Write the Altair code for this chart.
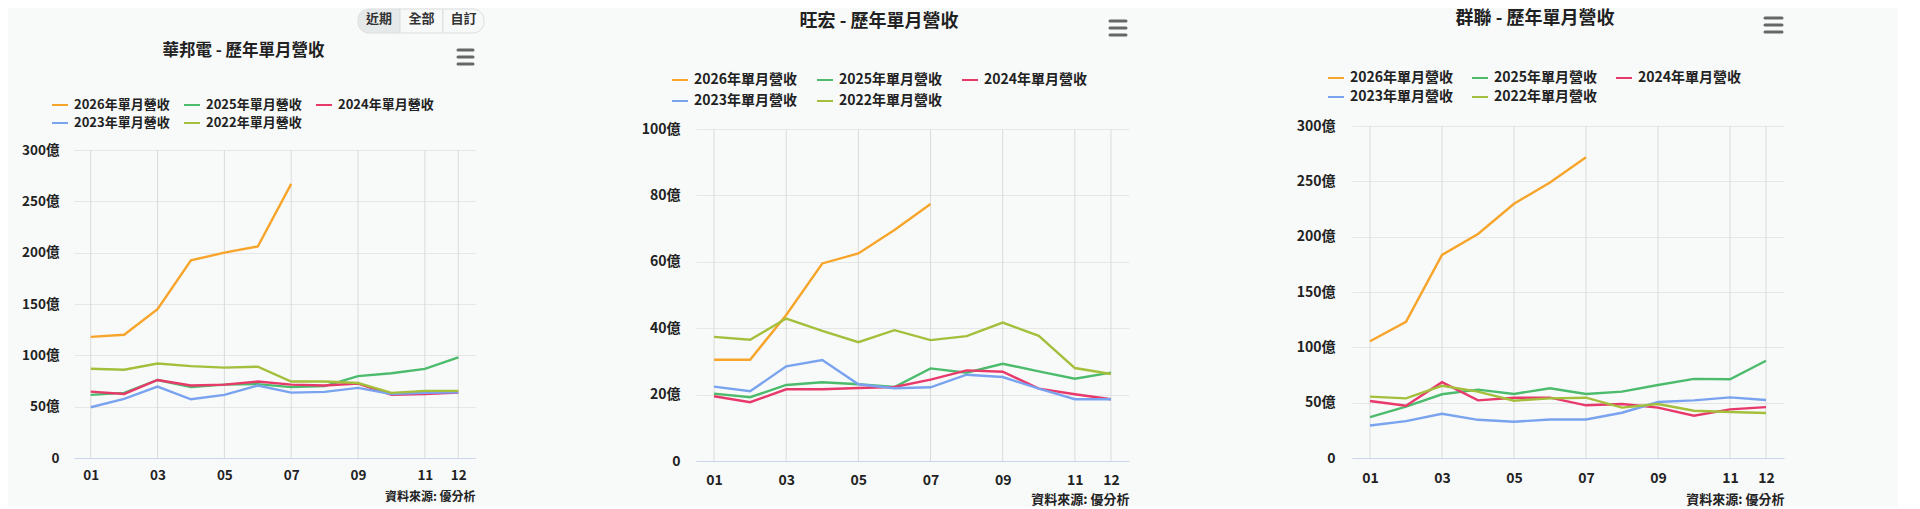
import altair as alt
import pandas as pd

months = list(range(1, 13))
series_names = ["2026年單月營收", "2025年單月營收", "2024年單月營收", "2023年單月營收", "2022年單月營收"]
series_colors = ["#f7a52a", "#4cbb6c", "#e8396b", "#7aa3ef", "#a3bf3c"]
x_tick_values = [1, 3, 5, 7, 9, 11, 12]
source_text = "資料來源: 優分析"
button_labels = ["近期", "全部", "自訂"]

# 華邦電 (億)
wb_2026 = [118, 120, 145, 192.5, 200, 206, 267]
wb_2025 = [61.5, 63.4, 76, 69, 71.5, 72, 69, 70, 79.7, 82.6, 86.8, 98]
wb_2024 = [64.7, 62.4, 76, 70.6, 71.5, 74.5, 71.5, 70.6, 72.5, 61.5, 62.4, 63.7]
wb_2023 = [49.4, 57.6, 69.6, 57.2, 61.5, 70.6, 63.7, 64.4, 68.3, 62.4, 63.4, 64]
wb_2022 = [87, 86, 92, 89.5, 88, 89, 74.5, 74.5, 73, 63.4, 65.4, 65.4]

# 旺宏 (億)
mx_2026 = [30.5, 30.5, 44, 59.5, 62.5, 69.6, 77.4]
mx_2025 = [20.3, 19.2, 22.9, 23.7, 23.1, 22.3, 27.9, 26.6, 29.3, 27, 24.8, 26.6]
mx_2024 = [19.5, 17.7, 21.6, 21.6, 22, 22.3, 24.5, 27.3, 26.9, 21.8, 20.1, 18.6]
mx_2023 = [22.4, 21, 28.5, 30.4, 23.1, 21.9, 22.2, 26, 25.3, 21.8, 18.6, 18.6]
mx_2022 = [37.4, 36.5, 42.9, 39.2, 35.8, 39.4, 36.4, 37.6, 41.7, 37.7, 28, 26.2]

# 群聯 (億)
ph_2026 = [105.5, 123, 183.5, 202.4, 229.7, 249, 271.8]
ph_2025 = [37, 46.4, 57.6, 61.8, 57.9, 63, 57.9, 60, 66, 71.5, 71.2, 87.9]
ph_2024 = [51.5, 47.3, 68.5, 52.1, 54.5, 54.5, 47.6, 48.8, 45.5, 38.2, 43.9, 46]
ph_2023 = [29.4, 33.3, 40, 34.5, 32.7, 34.8, 34.8, 40.9, 50.6, 52.1, 54.8, 52.4]
ph_2022 = [55.5, 53.9, 65.2, 60, 51.8, 53.9, 54.5, 45.5, 48.8, 42.7, 41.5, 40.6]

FONT = "Noto Sans CJK TC"


def long_df(lists):
    rows = []
    for name, vals in zip(series_names, lists):
        for m, v in zip(months, vals):
            rows.append({"month": m, "value": v, "series": name})
    return pd.DataFrame(rows)


def one_row():
    return pd.DataFrame({"k": [0]})


def hbar(x1, x2, y):
    return alt.Chart(one_row()).mark_rule(
        color="#666666", strokeWidth=3, strokeCap="round"
    ).encode(x=alt.value(x1), x2=alt.value(x2), y=alt.value(y))


def panel(title, lists, ymax, ystep, g):
    df = long_df(lists)
    yvals = list(range(0, ymax + 1, ystep))
    x_enc = alt.X(
        "month:Q",
        scale=alt.Scale(domain=[0.5, 12.5], nice=False, zero=False),
        axis=alt.Axis(
            values=x_tick_values,
            labelExpr="datum.value < 10 ? '0' + datum.value : '' + datum.value",
            grid=False, ticks=False, tickSize=0,
            domainColor="#ccd6eb", domainWidth=1,
            labelPadding=g["xlp"], labelFontSize=g["lfs"],
            title=source_text, titleAnchor="end", titleAlign="right",
            titlePadding=g["xtp"], titleFontSize=g["tfs"],
            titleFont=FONT, titleFontWeight="bold", titleColor="#222222",
        ),
    )
    y_enc = alt.Y(
        "value:Q",
        scale=alt.Scale(domain=[0, ymax], nice=False, range=[g["h"], g["ytop"]]),
        axis=alt.Axis(
            values=yvals,
            labelExpr="datum.value == 0 ? '0' : datum.value + '億'",
            domain=False, ticks=False, tickSize=0, gridColor="#e6e6e6",
            labelPadding=g["ylp"], labelFontSize=g["lfs"], title=None,
        ),
    )
    grid_df = pd.DataFrame({"month": x_tick_values,
                            "value": [0] * len(x_tick_values),
                            "value_top": [ymax] * len(x_tick_values)})
    vgrid = alt.Chart(grid_df).mark_rule(color="#dadada", strokeWidth=1).encode(
        x=x_enc, y=y_enc, y2="value_top:Q"
    )
    lines = alt.Chart(df).mark_line(strokeWidth=2.4).encode(
        x=x_enc,
        y=y_enc,
        color=alt.Color(
            "series:N",
            scale=alt.Scale(domain=series_names, range=series_colors),
            legend=alt.Legend(
                orient="none", legendX=g["lx"], legendY=g["ly"], columns=3,
                direction="horizontal",
                symbolType="stroke", symbolSize=256, symbolStrokeWidth=2,
                labelFontSize=g["lgfs"], labelOffset=5, columnPadding=g["cp"],
                rowPadding=g["rp"], title=None, labelFont=FONT,
                labelFontWeight="bold", labelColor="#222222", padding=0,
            ),
        ),
    )
    anchor = alt.Chart(one_row()).mark_rule(opacity=0).encode(
        x=alt.value(g["ax1"]), x2=alt.value(g["ax2"]), y=alt.value(g["ay"])
    )
    hx1, hx2 = g["hx"]
    layers = [anchor, vgrid, lines] + [hbar(hx1, hx2, yy) for yy in g["hy"]]
    if g.get("buttons"):
        bx = g["buttons"]
        fills = ["#e6e9ea", "#f7f8f8", "#f7f8f8"]
        for i in range(3):
            kw = {}
            if i == 0:
                kw = dict(cornerRadiusTopLeft=11, cornerRadiusBottomLeft=11)
            if i == 2:
                kw = dict(cornerRadiusTopRight=11, cornerRadiusBottomRight=11)
            layers.append(
                alt.Chart(one_row()).mark_rect(
                    fill=fills[i], stroke="#dddddd", strokeWidth=1, **kw
                ).encode(x=alt.value(bx[i]), x2=alt.value(bx[i + 1]),
                         y=alt.value(g["by1"]), y2=alt.value(g["by2"]))
            )
        for i, lab in enumerate(button_labels):
            layers.append(
                alt.Chart(one_row()).mark_text(
                    text=lab, font=FONT, fontWeight="bold", fontSize=13,
                    color="#333333", baseline="middle", align="center"
                ).encode(x=alt.value((bx[i] + bx[i + 1]) / 2), y=alt.value(g["bty"]))
            )
    return alt.layer(*layers).properties(
        width=g["w"], height=g["h"],
        title=alt.TitleParams(
            text=title, fontSize=g["titfs"], font=FONT, fontWeight="bold",
            color="#212121", anchor="middle", frame="group", dx=g["tdx"],
            offset=g["toff"],
        ),
    )


g1 = dict(w=401, h=332, ytop=24, ax1=-65, ax2=563, ay=-117, titfs=16.5, toff=-51, tdx=-31,
          hx=(384, 399), hy=[-76, -69, -62], lx=-23, ly=-30, rp=2, cp=10, lgfs=13,
          lfs=13.5, ylp=15, xlp=10, xtp=10, tfs=12,
          buttons=[284, 326, 369, 410], by1=-117, by2=-93, bty=-107)
g2 = dict(w=433, h=335, ytop=3, ax1=-57, ax2=595, ay=-117, titfs=18, toff=-22, tdx=-33.5,
          hx=(414, 430), hy=[-105, -98, -91], lx=-25, ly=-55, rp=5, cp=15, lgfs=14,
          lfs=14, ylp=16, xlp=12, xtp=6, tfs=13)
g3 = dict(w=432, h=332, ytop=0, ax1=-59, ax2=545, ay=-117, titfs=18, toff=-19, tdx=-33,
          hx=(413, 430), hy=[-108, -101, -94], lx=-25, ly=-57, rp=3, cp=14, lgfs=14,
          lfs=14, ylp=17, xlp=13, xtp=8, tfs=13)

p1 = panel("華邦電 - 歷年單月營收", [wb_2026, wb_2025, wb_2024, wb_2023, wb_2022], 300, 50, g1)
p2 = panel("旺宏 - 歷年單月營收", [mx_2026, mx_2025, mx_2024, mx_2023, mx_2022], 100, 20, g2)
p3 = panel("群聯 - 歷年單月營收", [ph_2026, ph_2025, ph_2024, ph_2023, ph_2022], 300, 50, g3)

chart = alt.hconcat(p1, p2, p3, spacing=0, padding=0).resolve_scale(
    x="independent", y="independent", color="independent"
).resolve_legend(color="independent").configure(
    background="#f8fafa",
    font=FONT,
).configure_axis(
    labelFont=FONT, labelFontWeight="bold", labelColor="#222222",
).configure_view(stroke="transparent")

chart.save("out.html", embed_options={"renderer": "svg", "actions": False})
